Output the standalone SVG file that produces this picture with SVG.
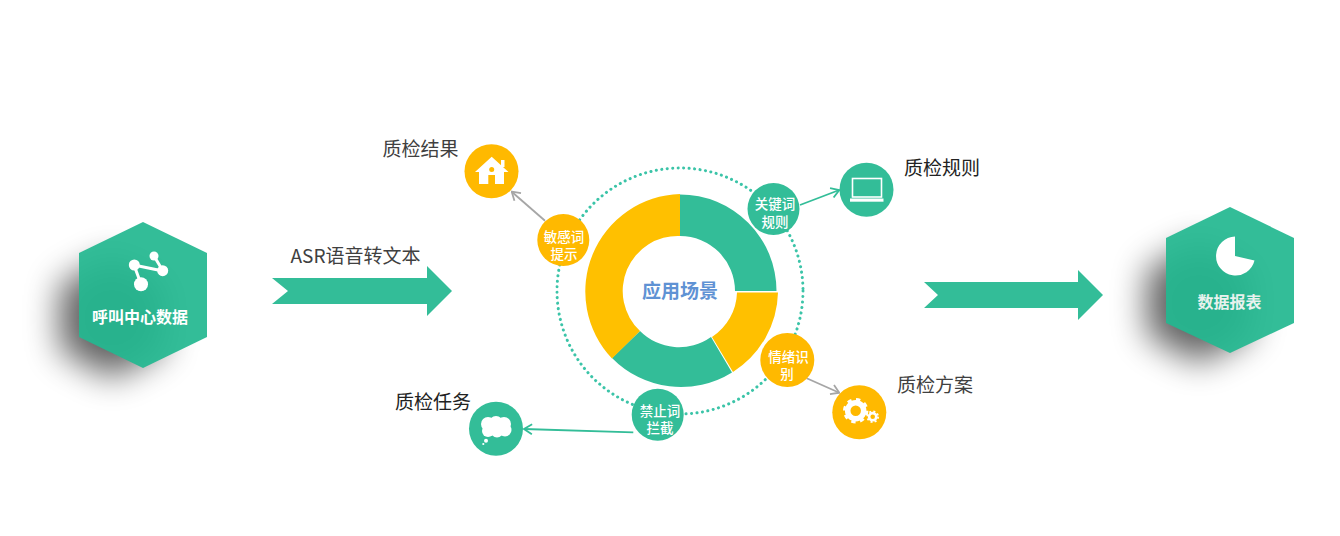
<svg xmlns="http://www.w3.org/2000/svg" width="1340" height="536" viewBox="0 0 1340 536">
<style>
.t{font-family:"Noto Sans CJK SC","Liberation Sans",sans-serif}
.lab{font-size:19px;fill:#404040;text-anchor:middle;dominant-baseline:central}
.sm{font-family:"Liberation Sans","Noto Sans CJK SC",sans-serif;font-size:13.5px;fill:#fff;text-anchor:middle;font-weight:500}
.hx{font-size:16px;font-weight:700;fill:#fff;text-anchor:middle}
.tl{fill:#33BD98}.yl{fill:#FFB900}.dn{fill:#FFC000}
.ic{fill:#fff}
.cn{fill:none;stroke-width:1.8}
.hex{fill:#24B890;fill-opacity:.93}
.shd{fill:#000;opacity:.62}
</style>
<defs>
<filter id="sh" x="-80%" y="-80%" width="260%" height="260%"><feGaussianBlur stdDeviation="17"/></filter>
<marker id="ag" viewBox="0 0 12 12" refX="11" refY="6" markerWidth="12" markerHeight="12" markerUnits="userSpaceOnUse" orient="auto"><path d="M3 1 L11 6 L3 11" fill="none" stroke="#A6A6A6" stroke-width="1.8"/></marker>
<marker id="at" viewBox="0 0 12 12" refX="11" refY="6" markerWidth="12" markerHeight="12" markerUnits="userSpaceOnUse" orient="auto"><path d="M3 1 L11 6 L3 11" fill="none" stroke="#33BD98" stroke-width="1.8"/></marker>
</defs>
<rect width="1340" height="536" fill="#fff"/>

<g id="source">
<polygon class="shd" points="112,258 164,285 164,350 112,378 60,350 60,285" filter="url(#sh)"/>
<polygon class="hex" points="143,222 207,253 207,337 143,368 79,337 79,253"/>
<path d="M141 284 L134 265 L163 271 L154 256" stroke="#fff" stroke-width="3" fill="none"/>
<circle class="ic" cx="134.3" cy="265" r="5.5"/><circle class="ic" cx="154" cy="256" r="4.5"/><circle class="ic" cx="162.7" cy="270.7" r="5.5"/><circle class="ic" cx="141" cy="284.3" r="7"/>
<text class="t hx" x="140" y="323">呼叫中心数据</text>
</g>

<g id="arrow-left">
<polygon class="tl" points="272,278 427,278 427,266 452,291 427,316 427,304 272,304 288,291"/>
<text class="t" x="355.5" y="263" font-size="19" fill="#404040" text-anchor="middle">ASR语音转文本</text>
</g>

<g id="ring">
<circle cx="680" cy="291" r="123" fill="none" stroke="#3BC4A8" stroke-width="3" stroke-linecap="round" stroke-dasharray="0.1 5.4"/>
<path class="tl" d="M680 194.5 A96.5 96.5 0 0 1 776.5 291 L735 291 A55 55 0 0 0 680 236 Z"/>
<path class="dn" d="M733 372 A97 97 0 0 0 778 292.5 L737 292.5 A55 55 0 0 1 712 337 Z"/>
<path class="tl" d="M732 372.5 A96.5 96.5 0 0 1 612 358 L640 331 A55 55 0 0 0 711 337 Z"/>
<path class="dn" d="M612 358.5 A97.5 97.5 0 0 1 680 194 L680 236 A55 55 0 0 0 640 331 Z"/>
<text class="t" x="680" y="298" font-size="19" font-weight="700" fill="#5F92D4" text-anchor="middle">应用场景</text>
</g>

<g id="connectors">
<path class="cn" stroke="#A6A6A6" marker-end="url(#ag)" d="M545 220.7 L511.7 191.7"/>
<path class="cn" stroke="#33BD98" marker-end="url(#at)" d="M800 205 L839.3 190"/>
<path class="cn" stroke="#A6A6A6" marker-end="url(#ag)" d="M806.7 378.3 L839.3 392.7"/>
<path class="cn" stroke="#33BD98" marker-end="url(#at)" d="M633.3 432.3 L524 429"/>
</g>

<g id="tag-min">
<circle class="yl" cx="563.3" cy="240" r="26"/>
<text class="t sm" x="564" y="242">敏感词</text><text class="t sm" x="564" y="259">提示</text>
</g>
<g id="tag-key">
<circle class="tl" cx="773.5" cy="209" r="26"/>
<text class="t sm" x="775" y="209">关键词</text><text class="t sm" x="775" y="226.5">规则</text>
</g>
<g id="tag-emo">
<circle class="yl" cx="787.3" cy="360" r="27"/>
<text class="t sm" x="788.5" y="362">情绪识</text><text class="t sm" x="787" y="379">别</text>
</g>
<g id="tag-ban">
<circle class="tl" cx="657.7" cy="414.7" r="26"/>
<text class="t sm" x="660" y="415.5">禁止词</text><text class="t sm" x="660" y="432.5">拦截</text>
</g>

<g id="result">
<circle class="yl" cx="491.5" cy="171.3" r="27"/>
<polygon class="ic" points="491.7,156.7 508.5,172 504,172 504,184 495,184 495,175 488.3,175 488.3,184 479,184 479,172 475,172"/>
<rect class="ic" x="501" y="160" width="3.5" height="7"/>
<circle cx="491.7" cy="169.5" r="2.5" fill="#FFB900"/>
<text class="t lab" x="420.5" y="147.5">质检结果</text>
</g>
<g id="rule">
<circle class="tl" cx="866.5" cy="189.7" r="27"/>
<rect x="852.5" y="178.5" width="29" height="18.5" fill="none" stroke="#fff" stroke-width="1.6"/>
<rect class="ic" x="850" y="198.5" width="33.5" height="3.2"/>
<text class="t lab" x="942" y="166.5" style="fill:#222">质检规则</text>
</g>
<g id="plan">
<circle class="yl" cx="859.3" cy="412.3" r="27"/>
<circle cx="855.7" cy="410.7" r="8" fill="none" stroke="#fff" stroke-width="5.5"/>
<circle cx="855.7" cy="410.7" r="11" fill="none" stroke="#fff" stroke-width="3.4" stroke-dasharray="4.2 4.44"/>
<circle cx="872.7" cy="416.7" r="3.6" fill="none" stroke="#fff" stroke-width="2.6"/>
<circle cx="872.7" cy="416.7" r="5.4" fill="none" stroke="#fff" stroke-width="1.8" stroke-dasharray="2 2.24"/>
<text class="t lab" x="935" y="383">质检方案</text>
</g>
<g id="task">
<circle class="tl" cx="496" cy="428.7" r="27"/>
<g class="ic"><circle cx="488" cy="424" r="7"/><circle cx="496" cy="423" r="7"/><circle cx="504" cy="424" r="7"/><circle cx="505" cy="430" r="6.5"/><circle cx="497" cy="431" r="6.5"/><circle cx="488" cy="431" r="6"/><circle cx="486" cy="440.7" r="2"/><circle cx="483.3" cy="444" r="1.1"/></g>
<text class="t lab" x="433" y="400.5" style="fill:#222">质检任务</text>
</g>

<g id="arrow-right">
<polygon class="tl" points="924,282 1078,282 1078,270 1103,295 1078,320 1078,308 924,308 938,295"/>
</g>

<g id="report">
<polygon class="shd" points="1199,243 1251,270 1251,335 1199,363 1147,335 1147,270" filter="url(#sh)"/>
<polygon class="hex" points="1230,207 1294,238 1294,323 1230,353 1166,323 1166,238"/>
<path class="ic" d="M1235 236.5 A19.5 19.5 0 1 0 1254.5 260.6 L1235 256 Z"/>
<text class="t hx" x="1229.5" y="308" style="fill:#e8f2ee">数据报表</text>
</g>
</svg>
